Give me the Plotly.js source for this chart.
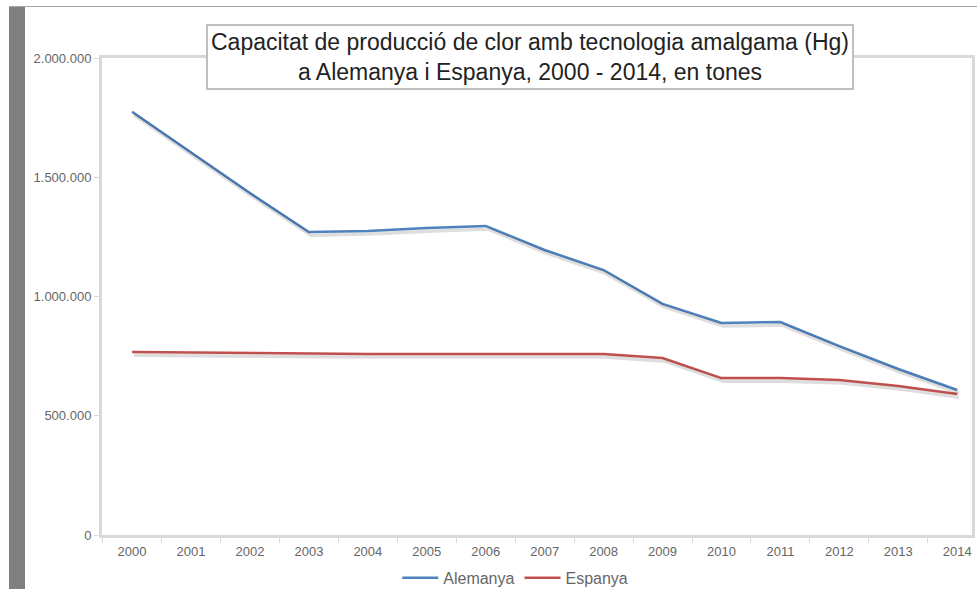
<!DOCTYPE html>
<html>
<head>
<meta charset="utf-8">
<script src="https://cdn.plot.ly/plotly-3.0.1.min.js"></script>
<style>
  html, body { margin: 0; padding: 0; background: #fff; }
  #wrap { position: relative; width: 977px; height: 589px; overflow: hidden; }
  #chart { position: absolute; left: 0; top: 0; width: 977px; height: 589px; }
  #bar { position: absolute; left: 9px; top: 7px; width: 16px; height: 582px; background: #808080; }
  #topline { position: absolute; left: 9px; top: 6px; width: 968px; height: 1px; background: #a6a6a6; }
</style>
</head>
<body>
<div id="wrap">
  <div id="chart"></div>
  <div id="bar"></div>
  <div id="topline"></div>
</div>
<script>
const years = ["2000","2001","2002","2003","2004","2005","2006","2007","2008","2009","2010","2011","2012","2013","2014"];
const alemanya = [1775000,1606000,1434000,1270000,1275000,1287000,1296000,1195000,1111000,969000,889000,893000,792000,696000,608000];
const espanya = [767000,765000,763000,759000,759000,759000,759000,759000,759000,742000,658000,658000,650000,625000,591000];
const yTickVals = [0,500000,1000000,1500000,2000000];
const titleText = "Capacitat de producció de clor amb tecnologia amalgama (Hg)<br>a Alemanya i Espanya, 2000 - 2014, en tones";

const font = "Liberation Sans, Arial, sans-serif";
const xRange = [-0.51, 14.25];
const yRange = [0, 2000000];

const traces = [
  // soft drop shadows (same data on slightly offset overlay axes)
  { x: years, y: alemanya, type: "scatter", mode: "lines", showlegend: false, hoverinfo: "skip",
    xaxis: "x2", yaxis: "y2", line: { color: "rgba(0,0,0,0.13)", width: 3.5 } },
  { x: years, y: espanya, type: "scatter", mode: "lines", showlegend: false, hoverinfo: "skip",
    xaxis: "x2", yaxis: "y2", line: { color: "rgba(0,0,0,0.13)", width: 3.5 } },
  { x: years, y: alemanya, type: "scatter", mode: "lines", name: "Alemanya",
    line: { color: "#4f81bd", width: 2.5 } },
  { x: years, y: espanya, type: "scatter", mode: "lines", name: "Espanya",
    line: { color: "#c0504d", width: 2.5 } }
];

const layout = {
  width: 977, height: 589,
  paper_bgcolor: "rgba(0,0,0,0)", plot_bgcolor: "#fff",
  margin: { l: 102, r: 5, t: 58, b: 54, autoexpand: false },
  separators: ",.",
  font: { family: font, size: 13, color: "#666" },
  showlegend: true,
  legend: { orientation: "h", x: 0.475, xanchor: "center", y: -0.09, yanchor: "middle",
    itemwidth: 36,
    font: { family: font, size: 16, color: "#666" }, bgcolor: "rgba(0,0,0,0)" },
  xaxis: { type: "category", range: xRange, showgrid: false, zeroline: false,
    showline: true, linecolor: "#d9d9d9", linewidth: 3, mirror: true,
    ticks: "outside", tickson: "boundaries", ticklen: 5, tickcolor: "#d9d9d9",
    ticklabelstandoff: 2, automargin: false,
    tickfont: { family: font, size: 13, color: "#666" } },
  yaxis: { range: yRange, tickvals: yTickVals, tickformat: ",d", showgrid: false,
    zeroline: false, showline: true, linecolor: "#d9d9d9", linewidth: 3, mirror: true,
    ticks: "outside", ticklen: 5, tickcolor: "#d9d9d9", automargin: false,
    tickfont: { family: font, size: 13, color: "#666" } },
  xaxis2: { type: "category", overlaying: "x", range: [xRange[0] - 0.03, xRange[1] - 0.03],
    visible: false },
  yaxis2: { overlaying: "y", range: [yRange[0] + 13000, yRange[1] + 13000], visible: false },
  annotations: [{
    text: titleText, xref: "paper", yref: "paper", x: 0.492, y: 1.002,
    xanchor: "center", yanchor: "middle", showarrow: false, align: "center",
    font: { family: font, size: 23, color: "#222" },
    bgcolor: "#fff", bordercolor: "#bfbfbf", borderwidth: 2, borderpad: 3
  }]
};

Plotly.newPlot("chart", traces, layout, { displayModeBar: false, staticPlot: true });
</script>
</body>
</html>
